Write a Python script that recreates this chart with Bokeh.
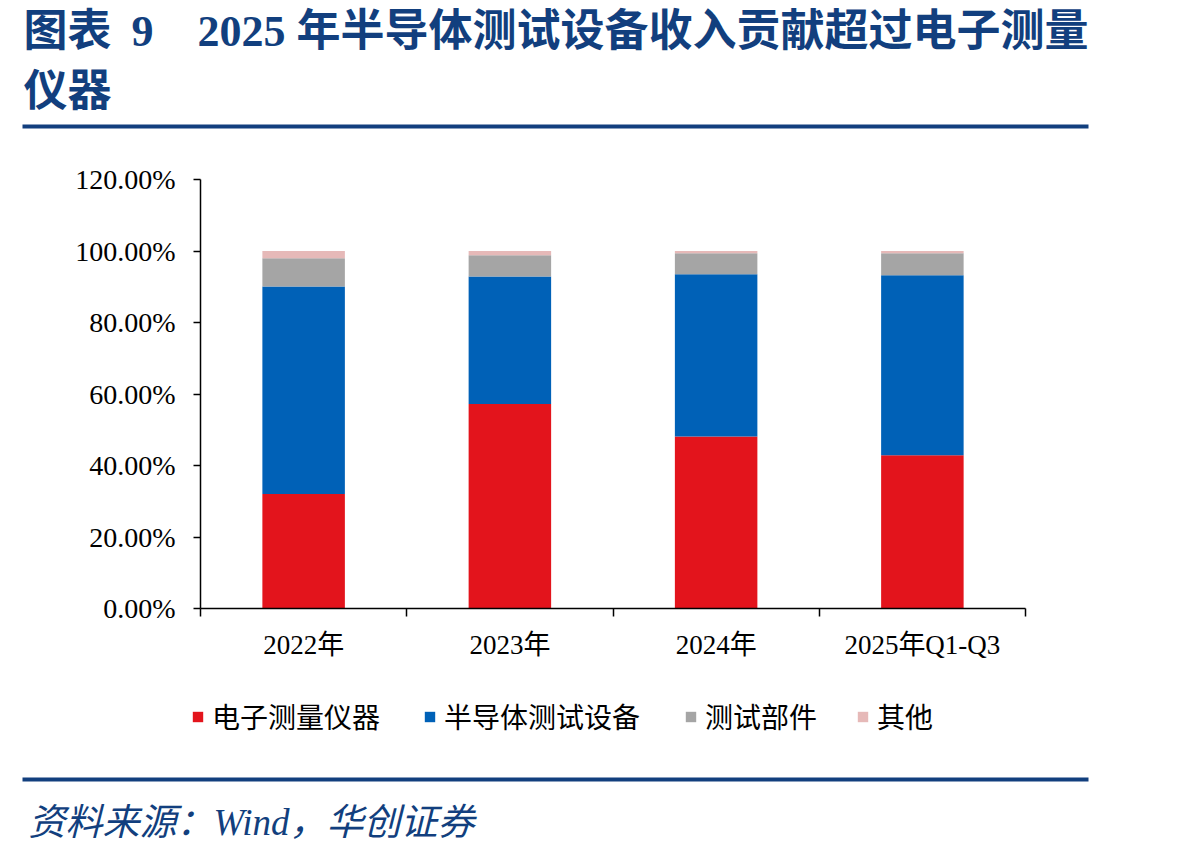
from bokeh.plotting import figure
from bokeh.models import (Label, Legend, LegendItem, FixedTicker, PrintfTickFormatter,
                          BoxAnnotation, Range1d, ColumnDataSource)
from bokeh.embed import file_html
from bokeh.resources import INLINE

# Revenue share by business line (%)
categories = ["2022年", "2023年", "2024年", "2025年Q1-Q3"]
electronic_measurement = [32.0, 57.2, 48.1, 42.9]
semiconductor_test = [58.1, 35.7, 45.4, 50.3]
test_components = [7.9, 5.9, 5.9, 6.2]
others = [2.0, 1.2, 0.6, 0.6]
series_names = ["电子测量仪器", "半导体测试设备", "测试部件", "其他"]
series_colors = ["#E3141C", "#0061B7", "#A5A5A5", "#E6B9B8"]
y_ticks = [0, 20, 40, 60, 80, 100, 120]
y_max = 120

W, H = 1198, 856
# pixel box of the plotting area inside the canvas
PL, PR, PT, PB = 200, 1025, 179, 608
FONT = "Liberation Serif, Noto Sans CJK SC"
NAVY = "#123F7E"

n = len(categories)
x_per_px = n / (PR - PL)
y_per_px = y_max / (PB - PT)
x_range = Range1d(-PL * x_per_px, n + (W - PR) * x_per_px)
y_range = Range1d(-(H - PB) * y_per_px, y_max + PT * y_per_px)

# the frame fills the whole canvas; axes are pinned at x=0 / y=0
p = figure(width=W, height=H, output_backend="svg", toolbar_location=None,
           x_range=x_range, y_range=y_range,
           min_border_left=0, min_border_right=0,
           min_border_top=0, min_border_bottom=0)
p.title.visible = False
p.outline_line_color = None
p.xgrid.visible = False
p.ygrid.visible = False
p.background_fill_color = "white"
p.border_fill_color = "white"

centers = [i + 0.5 for i in range(n)]
keys = ["electronic", "semiconductor", "components", "others"]
source = ColumnDataSource(dict(x=centers, electronic=electronic_measurement,
                               semiconductor=semiconductor_test,
                               components=test_components, others=others))
bars = p.vbar_stack(keys, x="x", width=0.4, fill_color=series_colors,
                    line_color=None, source=source)

# x axis: labels at category centres, tick marks at category boundaries
xa = p.xaxis[0]
xa.fixed_location = 0
xa.bounds = (0, n)
xa.ticker = FixedTicker(ticks=centers, minor_ticks=list(range(n + 1)))
xa.major_label_overrides = {c: lab for c, lab in zip(centers, categories)}
xa.major_tick_line_color = None
xa.major_tick_out = 8
xa.major_tick_in = 0
xa.minor_tick_out = 8
xa.minor_tick_in = 0
xa.minor_tick_line_color = "black"
xa.minor_tick_line_width = 1.5
xa.axis_line_width = 1.5
xa.axis_line_color = "black"
xa.major_label_standoff = 13
xa.major_label_text_font = FONT
xa.major_label_text_font_size = "27px"
xa.major_label_text_color = "black"

ya = p.yaxis[0]
ya.fixed_location = 0
ya.bounds = (0, y_max)
ya.ticker = FixedTicker(ticks=y_ticks, minor_ticks=[])
ya.formatter = PrintfTickFormatter(format="%.2f%%")
ya.major_tick_out = 7
ya.major_tick_in = 0
ya.major_tick_line_width = 1.5
ya.major_tick_line_color = "black"
ya.axis_line_width = 1.5
ya.axis_line_color = "black"
ya.major_label_standoff = 18
ya.major_label_text_font = FONT
ya.major_label_text_font_size = "28px"
ya.major_label_text_color = "black"


def label_at(text, cx, cy, **kw):
    return Label(x=cx, y=H - cy, x_units="screen", y_units="screen",
                 text=text, text_baseline="middle", text_align="left", **kw)


def rule_at(x0, x1, y0, y1):
    return BoxAnnotation(left=x0, right=x1, top=H - y0, bottom=H - y1,
                         left_units="screen", right_units="screen",
                         top_units="screen", bottom_units="screen",
                         fill_color=NAVY, fill_alpha=1, line_color=None)


title_kw = dict(text_font=FONT, text_font_size="44px", text_font_style="bold",
                text_color=NAVY)
p.add_layout(label_at("图表", 23, 31, **title_kw))
p.add_layout(label_at("9", 131, 31, **title_kw))
p.add_layout(label_at("2025 年半导体测试设备收入贡献超过电子测量", 197, 31, **title_kw))
p.add_layout(label_at("仪器", 23, 91, **title_kw))
p.add_layout(rule_at(22, 1088, 124, 128))
p.add_layout(rule_at(22, 1088, 777, 781))
p.add_layout(label_at("资料来源：Wind，华创证券", 28, 822, text_font=FONT,
                      text_font_size="37px", text_font_style="italic", text_color=NAVY))

# one legend per series so each entry sits at its own position
legend_x = [191, 423, 684, 856]
for r, name, lx in zip(bars, series_names, legend_x):
    lg = Legend(items=[LegendItem(label=name, renderers=[r])],
                location=(lx, H - 736), orientation="horizontal",
                margin=0, padding=0, border_line_color=None,
                background_fill_alpha=0, glyph_width=13, glyph_height=13,
                label_standoff=8, label_text_font=FONT,
                label_text_font_size="28px", label_text_color="black")
    p.add_layout(lg, "center")

open("out.html", "w").write(file_html(p, INLINE))
